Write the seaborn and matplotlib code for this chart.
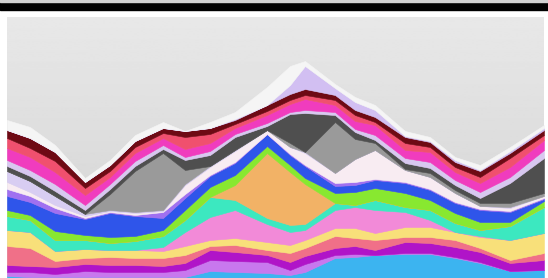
"""
Layered mountain stream chart (stacked areas over a grey gradient panel).
"""

import matplotlib
matplotlib.use("Agg")
import matplotlib.pyplot as plt
from matplotlib.patches import Rectangle
import numpy as np
import seaborn as sns

# x positions (pixel columns of the original chart)
x_pos = [7, 30, 55, 85, 110, 135, 163, 185, 210, 235, 267, 290, 305, 335, 355, 375, 405, 430, 455, 480, 510, 544]

# upper edge of every layer, read as pixel rows (0 = top of image, 278 = bottom)
top_white = [120, 127, 145, 178, 160, 135, 122, 131, 122, 112, 87, 66, 61, 84, 97, 105, 131, 137, 157, 165, 147, 125]
top_lav_top = [130, 138, 152, 182, 165, 141, 128, 131, 128, 119, 105, 85, 66, 88, 102, 110, 136, 141, 160, 170, 151, 128]
top_maroon = [130, 138, 152, 182, 165, 141, 128, 131, 128, 120, 105, 94, 89, 95, 110, 117, 137, 142, 162, 171, 153, 130]
top_coral = [138, 148, 161, 188, 171, 147, 133, 137, 134, 124, 111, 100, 95, 100, 115, 122, 143, 147, 167, 177, 158, 135]
top_magenta = [148, 157, 172, 195, 177, 153, 138, 149, 143, 128, 115, 104, 99, 105, 121, 125, 150, 152, 172, 183, 167, 140]
top_lav = [160, 170, 184, 205, 184, 161, 145, 157, 151, 134, 123, 112, 110, 112, 129, 135, 158, 162, 180, 192, 177, 150]
top_dgray = [166, 176, 191, 210, 189, 166, 149, 160, 155, 137, 126, 114, 113, 115, 132, 140, 163, 168, 185, 198, 183, 158]
top_gray = [171, 181, 196, 214, 194, 171, 153, 170, 166, 150, 130, 143, 152, 122, 139, 143, 169, 173, 190, 203, 203, 193]
top_lav2 = [171, 181, 196, 214, 210, 212, 210, 184, 166, 150, 130, 147, 152, 173, 159, 150, 170, 177, 193, 206, 207, 196]
top_whitepink = [182, 192, 205, 216, 211, 213, 211, 185, 167, 151, 130, 147, 153, 173, 159, 150, 170, 177, 193, 206, 208, 196]
top_violet = [189, 196, 208, 218, 212, 215, 212, 194, 175, 162, 134, 154, 165, 183, 182, 179, 182, 189, 202, 209, 211, 198]
top_blue = [196, 202, 213, 219, 213, 216, 218, 198, 176, 163, 134, 155, 166, 186, 185, 180, 183, 190, 203, 210, 212, 199]
top_green = [210, 215, 231, 235, 237, 236, 230, 210, 187, 175, 146, 165, 178, 193, 192, 188, 193, 200, 213, 222, 222, 201]
top_orange = [216, 220, 240, 240, 243, 241, 236, 220, 197, 185, 153, 172, 184, 203, 205, 200, 207, 210, 223, 230, 226, 207]
top_aqua = [216, 220, 240, 240, 243, 241, 236, 220, 197, 200, 218, 225, 224, 203, 205, 200, 207, 210, 223, 230, 226, 207]
top_pink = [230, 232, 251, 249, 250, 250, 247, 232, 217, 210, 224, 232, 230, 210, 207, 210, 212, 220, 232, 236, 240, 233]
top_yellow = [230, 232, 251, 249, 250, 250, 251, 246, 240, 238, 242, 245, 240, 228, 228, 233, 227, 227, 232, 237, 240, 233]
top_coralpink = [246, 248, 261, 258, 257, 258, 258, 255, 246, 245, 250, 253, 248, 236, 238, 240, 237, 237, 240, 248, 260, 253]
top_purple = [265, 266, 267, 264, 265, 265, 266, 263, 250, 252, 255, 262, 256, 248, 246, 250, 242, 243, 247, 252, 263, 260]
top_lilac = [272, 272, 274, 271, 272, 272, 272, 270, 260, 261, 262, 270, 264, 255, 254, 255, 253, 253, 257, 262, 271, 270]
top_lightblue = [276, 277, 277, 277, 277, 277, 277, 277, 271, 272, 273, 275, 272, 258, 257, 255, 254, 254, 258, 263, 271, 270]

# bottom -> top
layers = [
    (top_lightblue, "#3cb4f0"),
    (top_lilac, "#c878ee"),
    (top_purple, "#b014c8"),
    (top_coralpink, "#f07088"),
    (top_yellow, "#f8e07a"),
    (top_pink, "#f28ad8"),
    (top_aqua, "#3ce8c0"),
    (top_orange, "#f2b266"),
    (top_green, "#88e830"),
    (top_blue, "#2f55ea"),
    (top_violet, "#a070f0"),
    (top_whitepink, "#f8ecf2"),
    (top_lav2, "#d8cdf2"),
    (top_gray, "#9a9a9a"),
    (top_dgray, "#4f4f4f"),
    (top_lav, "#d8c8f0"),
    (top_magenta, "#f03cbe"),
    (top_coral, "#f0506e"),
    (top_maroon, "#6e0a14"),
    (top_lav_top, "#d2bff2"),
    (top_white, "#f5f5f5"),
]

IMG_H = 278
PLOT_TOP = 17

sns.set_style("white")

fig = plt.figure(figsize=(5.48, 2.78), dpi=100)
fig.patch.set_facecolor("white")
ax = fig.add_axes([7 / 548, 0, 537 / 548, (IMG_H - PLOT_TOP) / IMG_H])

# grey gradient panel
grad = np.linspace(0.91, 0.82, 256).reshape(-1, 1)
ax.imshow(grad, cmap="gray", vmin=0, vmax=1, aspect="auto",
          extent=(7, 544, 0, IMG_H - PLOT_TOP), origin="upper", zorder=0)

tops = np.array([[IMG_H] * len(x_pos)] + [t for t, _ in layers], dtype=float)
thickness = tops[:-1] - tops[1:]
colors = [c for _, c in layers]

ax.stackplot(x_pos, thickness, colors=colors, linewidth=0.4,
             edgecolor="face", zorder=2)

ax.set_xlim(7, 544)
ax.set_ylim(0, IMG_H - PLOT_TOP)
ax.set_axis_off()

# black header bar
fig.patches.append(Rectangle((0, 1 - 9.5 / IMG_H), 1, 7.5 / IMG_H,
                             transform=fig.transFigure, color="black", zorder=5))
fig.patches.append(Rectangle((0, 1 - 2 / IMG_H), 1, 2 / IMG_H,
                             transform=fig.transFigure, color="#d0d0d0", zorder=5))

fig.savefig("out.png", dpi=100)
plt.close(fig)
